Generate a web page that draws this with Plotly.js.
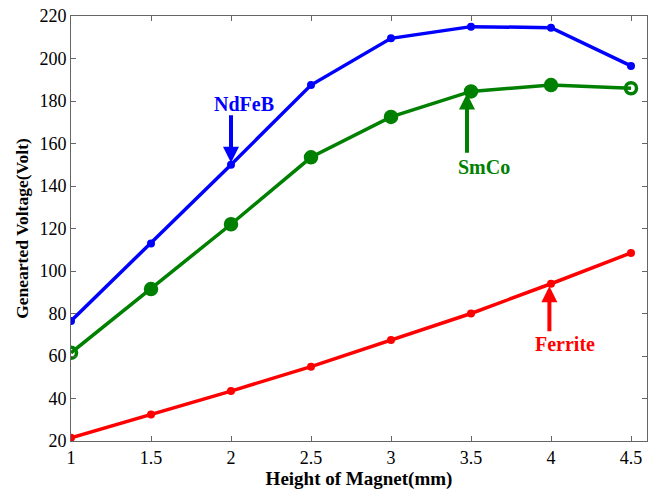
<!DOCTYPE html>
<html>
<head>
<meta charset="utf-8">
<script src="https://cdn.plot.ly/plotly-3.0.1.min.js"></script>
<style>html,body{margin:0;padding:0;background:#fff;}#chart{width:664px;height:492px;}</style>
</head>
<body>
<div id="chart"></div>
<script>
const heights = [1, 1.5, 2, 2.5, 3, 3.5, 4, 4.5];
const ndfeb = [76.5, 113, 150, 187.5, 209.5, 215, 214.5, 196.5];
const smco = [61.5, 91.5, 122, 153.5, 172.5, 184.5, 187.5, 186];
const ferrite = [21.5, 32.5, 43.5, 55, 67.5, 80, 94, 108.5];
const xTicks = [1, 1.5, 2, 2.5, 3, 3.5, 4, 4.5];
const yTicks = [20, 40, 60, 80, 100, 120, 140, 160, 180, 200, 220];

const serif = 'Liberation Serif, Times New Roman, serif';
const smcoSymbols = heights.map((h, i) => (i === 0 || i === heights.length - 1) ? 'circle-open' : 'circle');

const traces = [
  {x: heights, y: ndfeb, mode: 'lines+markers', name: 'NdFeB',
   line: {color: '#0000ff', width: 3.5}, marker: {color: '#0000ff', size: 8}},
  {x: heights, y: smco, mode: 'lines+markers', name: 'SmCo',
   line: {color: '#008000', width: 3.5}, marker: {color: '#008000', size: 11, symbol: smcoSymbols, line: {color: '#008000', width: 3.5}}},
  {x: heights, y: ferrite, mode: 'lines+markers', name: 'Ferrite',
   line: {color: '#ff0000', width: 3.5}, marker: {color: '#ff0000', size: 8}}
];

function label(text, x, y, color) {
  return {text: '<b>' + text + '</b>', x: x, y: y, xref: 'x', yref: 'y', showarrow: false,
          font: {family: serif, size: 20, color: color}};
}
function arrow(x0, y0, x1, y1, color) {
  return {text: '', x: x1, y: y1, ax: x0, ay: y0, xref: 'x', yref: 'y', axref: 'x', ayref: 'y',
          showarrow: true, arrowhead: 2, arrowsize: 0.8, arrowwidth: 4, arrowcolor: color, standoff: 0};
}

const layout = {
  width: 664, height: 492,
  margin: {l: 71, r: 17, t: 16, b: 51},
  paper_bgcolor: '#ffffff', plot_bgcolor: '#ffffff',
  showlegend: false,
  font: {family: serif, size: 17, color: '#000'},
  xaxis: {
    range: [1, 4.6], tickvals: xTicks, ticktext: xTicks.map(String),
    ticks: 'inside', ticklen: 5, tickcolor: '#666', showgrid: false, zeroline: false,
    showline: true, linecolor: '#666', linewidth: 1, mirror: 'ticks',
    tickfont: {family: serif, size: 18, color: '#000'},
    title: {text: '<b>Height of Magnet(mm)</b>', font: {family: serif, size: 19, color: '#000'}, standoff: 3}
  },
  yaxis: {
    range: [20, 220], tickvals: yTicks,
    ticks: 'inside', ticklen: 5, tickcolor: '#666', showgrid: false, zeroline: false,
    showline: true, linecolor: '#666', linewidth: 1, mirror: 'ticks',
    tickfont: {family: serif, size: 18, color: '#000'},
    title: {text: '<b>Genearted Voltage(Volt)</b>', font: {family: serif, size: 17.5, color: '#000'}, standoff: 6}
  },
  annotations: [
    label('NdFeB', 2.08, 178.5, '#0000ff'),
    arrow(2.0, 174, 2.0, 151, '#0000ff'),
    label('SmCo', 3.58, 149, '#008000'),
    arrow(3.475, 155, 3.475, 183.5, '#008000'),
    label('Ferrite', 4.09, 65.5, '#ff0000'),
    arrow(3.99, 71, 3.99, 92.8, '#ff0000')
  ]
};

Plotly.newPlot('chart', traces, layout, {displayModeBar: false, staticPlot: true});
</script>
</body>
</html>
